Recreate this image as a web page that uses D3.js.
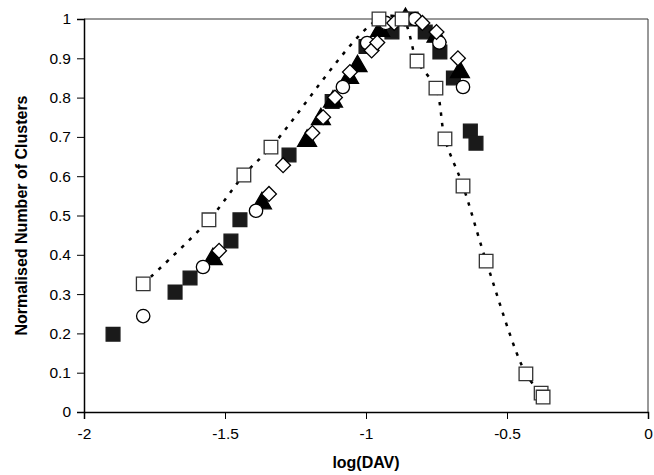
<!DOCTYPE html>
<html>
<head>
<meta charset="utf-8">
<script src="https://cdn.jsdelivr.net/npm/d3@7"></script>
<style>
  body { margin: 0; background: #fff; }
  text { font-family: "Liberation Sans", Arial, sans-serif; }
</style>
</head>
<body>
<div class="chart-area"></div>
<script>
// open squares, joined by the dotted curve
const openSqX = [-1.79, -1.557, -1.433, -1.337, -0.954, -0.872, -0.819, -0.752, -0.720, -0.656, -0.574, -0.433, -0.379, -0.372];
const openSqY = [0.326, 0.489, 0.603, 0.674, 1.0, 1.0, 0.893, 0.824, 0.695, 0.575, 0.384, 0.097, 0.048, 0.038];
// filled squares
const fillSqX = [-1.897, -1.677, -1.624, -1.479, -1.447, -1.273, -1.12, -1.0, -0.908, -0.84, -0.79, -0.738, -0.69, -0.63, -0.61];
const fillSqY = [0.198, 0.305, 0.341, 0.435, 0.489, 0.654, 0.79, 0.93, 0.967, 1.0, 0.967, 0.916, 0.85, 0.715, 0.684];
// open circles
const circX = [-1.79, -1.578, -1.39, -1.082, -0.996, -0.93, -0.826, -0.74, -0.656];
const circY = [0.244, 0.369, 0.512, 0.827, 0.939, 0.99, 1.0, 0.94, 0.827];
// filled triangles
const triX = [-1.543, -1.369, -1.209, -1.16, -1.117, -1.06, -1.03, -0.95, -0.86, -0.75, -0.667];
const triY = [0.389, 0.531, 0.69, 0.745, 0.79, 0.85, 0.88, 0.97, 1.0, 0.955, 0.865];
// open diamonds
const diaX = [-1.521, -1.344, -1.294, -1.19, -1.152, -1.11, -1.057, -0.98, -0.96, -0.90, -0.80, -0.75, -0.674];
const diaY = [0.41, 0.555, 0.628, 0.71, 0.75, 0.80, 0.865, 0.92, 0.94, 0.99, 0.99, 0.967, 0.90];

const xTicks = [-2, -1.5, -1, -0.5, 0];
const yTicks = [0, 0.1, 0.2, 0.3, 0.4, 0.5, 0.6, 0.7, 0.8, 0.9, 1];

let width = 654, height = 475;
let margin = {left: 84, right: 6, top: 19, bottom: 63};

const svg = d3.select(".chart-area").append("svg")
  .attr("width", width).attr("height", height);

const x = d3.scaleLinear().domain([-2, 0]).range([margin.left, width - margin.right]);
const y = d3.scaleLinear().domain([0, 1]).range([height - margin.bottom, margin.top]);

const zip = (xs, ys) => xs.map((v, i) => [v, ys[i]]);

// frame (top and right)
svg.append("path")
  .attr("d", `M${x(-2)},${y(1)}H${x(0)}V${y(0)}`)
  .attr("fill", "none").attr("stroke", "#333").attr("stroke-width", 1);

// axes
const xAxis = svg.append("g")
  .attr("transform", `translate(0,${y(0)})`)
  .call(d3.axisBottom(x).tickValues(xTicks).tickFormat(d => String(d)).tickSize(7).tickPadding(9));
const yAxis = svg.append("g")
  .attr("transform", `translate(${x(-2)},0)`)
  .call(d3.axisLeft(y).tickValues(yTicks).tickFormat(d => String(d)).tickSize(7).tickPadding(6));

[xAxis, yAxis].forEach(g => {
  g.select(".domain").attr("stroke", "#000").attr("stroke-width", 1.5);
  g.selectAll(".tick line").attr("stroke", "#000").attr("stroke-width", 1);
  g.selectAll(".tick text").attr("font-size", 15.5).attr("fill", "#000")
    .style("font-family", '"Liberation Sans", Arial, sans-serif');
});

// dotted curve through the open squares
svg.append("path")
  .datum(zip(openSqX, openSqY))
  .attr("d", d3.line().x(d => x(d[0])).y(d => y(d[1])).curve(d3.curveCatmullRom))
  .attr("fill", "none").attr("stroke", "#000")
  .attr("stroke-width", 2.5).attr("stroke-dasharray", "3.5,7");

// markers
function drawSeries(data, type, size, fill, stroke, rot) {
  svg.append("g").selectAll("path")
    .data(data)
    .join("path")
    .attr("transform", d => `translate(${x(d[0])},${y(d[1])}) rotate(${rot || 0})`)
    .attr("d", d3.symbol().type(type).size(size))
    .attr("fill", fill)
    .attr("stroke", stroke)
    .attr("stroke-width", 1.3);
}

drawSeries(zip(fillSqX, fillSqY), d3.symbolSquare, 190, "#1a1a1a", "#1a1a1a");
drawSeries(zip(triX, triY), d3.symbolTriangle, 155, "#000", "#000");
drawSeries(zip(circX, circY), d3.symbolCircle, 140, "#fff", "#000");
drawSeries(zip(diaX, diaY), d3.symbolSquare, 110, "#fff", "#000", 45);
drawSeries(zip(openSqX, openSqY), d3.symbolSquare, 185, "#fff", "#333");

// axis titles
svg.append("text")
  .attr("x", x(-1)).attr("y", 468)
  .attr("text-anchor", "middle")
  .attr("font-size", 16).attr("font-weight", "bold")
  .text("log(DAV)");

svg.append("text")
  .attr("transform", `translate(27,${(y(0) + y(1)) / 2}) rotate(-90)`)
  .attr("text-anchor", "middle")
  .attr("font-size", 16).attr("font-weight", "bold")
  .text("Normalised Number of Clusters");
</script>
</body>
</html>
